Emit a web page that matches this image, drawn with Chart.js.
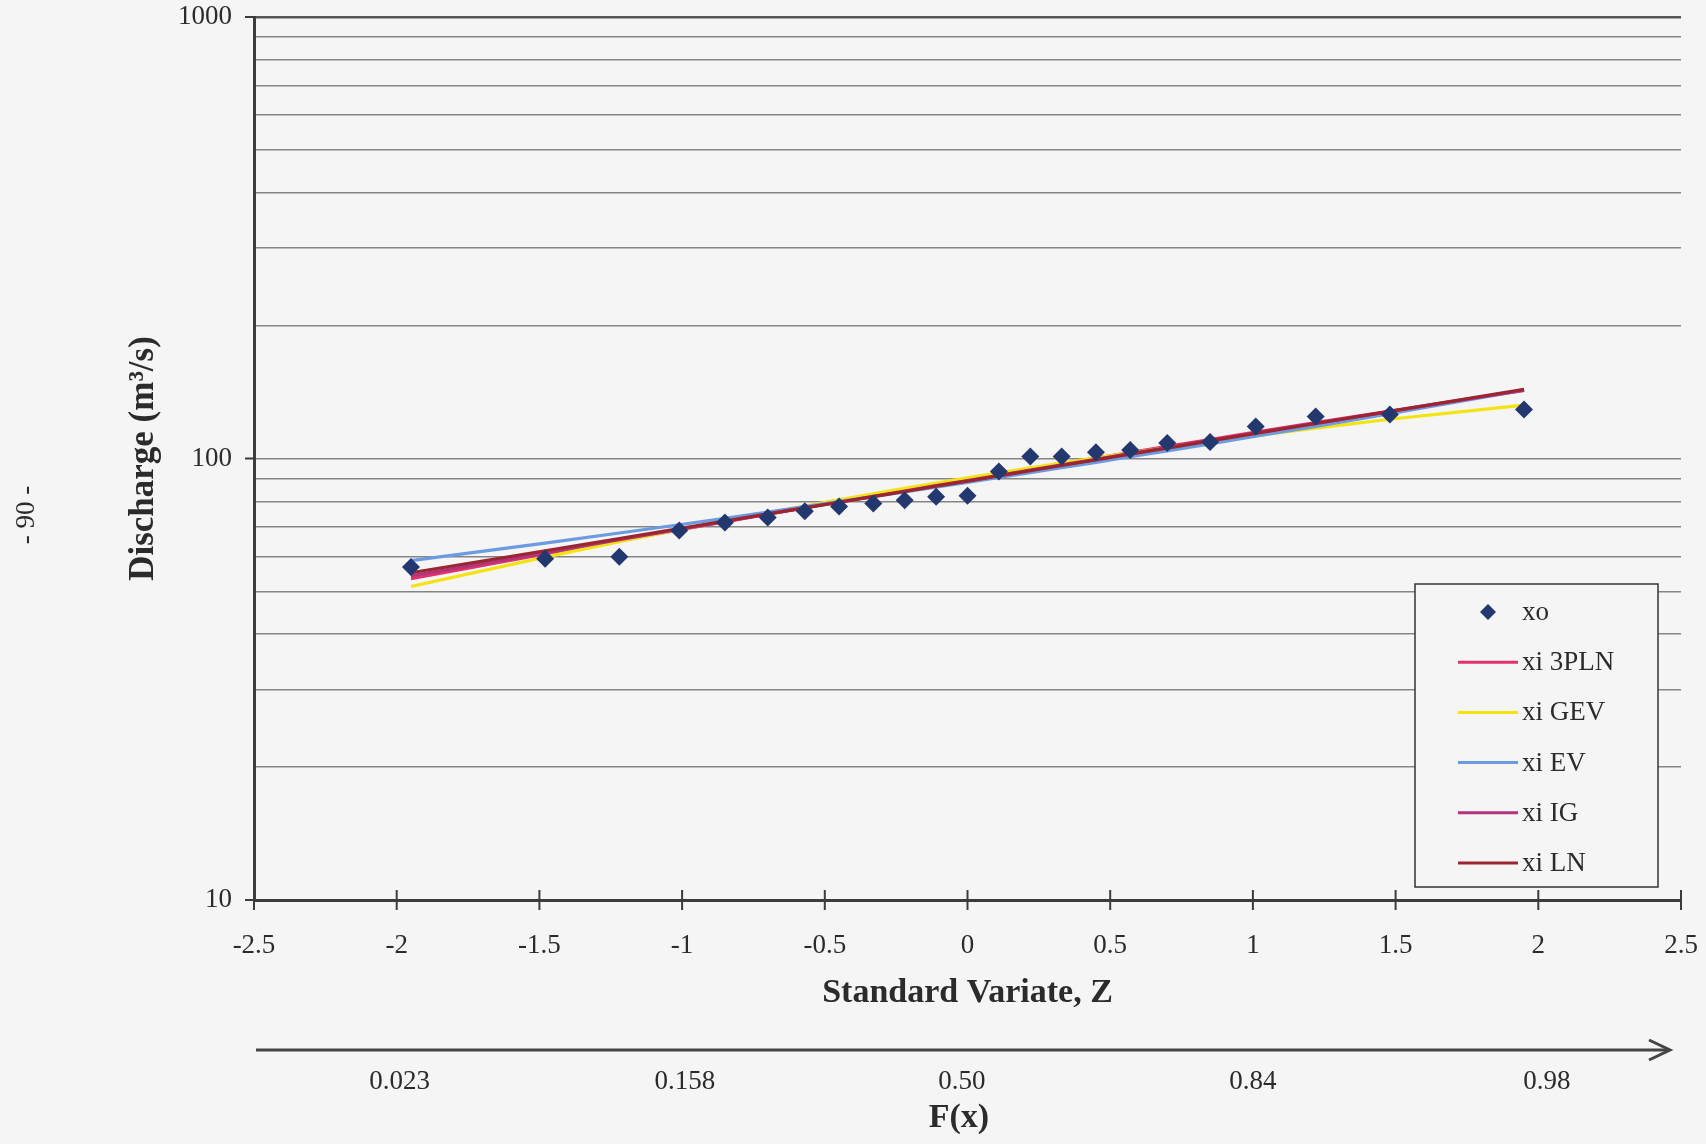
<!DOCTYPE html>
<html>
<head>
<meta charset="utf-8">
<script src="https://cdn.jsdelivr.net/npm/chart.js@4.4.1/dist/chart.umd.min.js"></script>
<style>
  body { margin: 0; background: #f5f5f5; }
  #wrap { width: 1706px; height: 1144px; }
</style>
</head>
<body>
<div id="wrap"><canvas id="freqChart" width="1706" height="1144"></canvas></div>
<script>
// standard variate (plotting positions) and discharges, m3/s
const zValues = [-1.95, -1.48, -1.22, -1.01, -0.85, -0.70, -0.57, -0.45, -0.33, -0.22, -0.11, 0,
                 0.11, 0.22, 0.33, 0.45, 0.57, 0.70, 0.85, 1.01, 1.22, 1.48, 1.95];
const xo     = [56.8, 59.3, 59.9, 68.7, 71.6, 73.5, 75.9, 77.9, 79.1, 80.4, 81.9, 82.3,
                93.5, 101.0, 101.1, 103.3, 104.5, 108.4, 109.0, 118.2, 124.5, 125.8, 129.2];
const xi3PLN = [53.4, 60.8, 65.2, 68.9, 71.9, 74.8, 77.4, 79.8, 82.3, 84.7, 87.1, 89.5,
                92.0, 94.6, 97.2, 100.2, 103.2, 106.5, 110.4, 114.7, 120.6, 128.1, 142.7];
const xiGEV  = [51.3, 59.8, 64.8, 69.0, 72.2, 75.3, 78.0, 80.6, 83.2, 85.6, 88.0, 90.4,
                92.8, 95.2, 97.6, 100.3, 102.9, 105.8, 109.1, 112.6, 117.2, 122.7, 132.1];
const xiEV   = [58.7, 64.3, 67.8, 70.8, 73.2, 75.6, 77.8, 79.9, 82.0, 84.0, 86.1, 88.3,
                90.6, 92.9, 95.3, 98.0, 100.9, 104.1, 107.9, 112.3, 118.2, 126.3, 142.9];
const xiIG   = [54.2, 61.2, 65.5, 69.1, 71.9, 74.8, 77.3, 79.6, 82.1, 84.4, 86.8, 89.1,
                91.6, 94.1, 96.7, 99.6, 102.6, 105.9, 109.8, 114.2, 120.1, 127.8, 142.9];
const xiLN   = [55.1, 61.8, 65.9, 69.4, 72.2, 74.9, 77.3, 79.6, 82.0, 84.2, 86.6, 88.9,
                91.3, 93.9, 96.4, 99.3, 102.3, 105.6, 109.6, 114.0, 120.0, 127.9, 143.5];

const xTicks = [-2.5, -2, -1.5, -1, -0.5, 0, 0.5, 1, 1.5, 2, 2.5];
const yGrid = [10, 20, 30, 40, 50, 60, 70, 80, 90, 100, 200, 300, 400, 500, 600, 700, 800, 900, 1000];
const yLabelled = [10, 100, 1000];
// F(x) labels sit roughly under z = -2, -1, 0, 1, 2
const fxPos = [-1.99, -0.99, -0.02, 1.0, 2.03];
const fxLabels = ["0.023", "0.158", "0.50", "0.84", "0.98"];

const serif = "'Liberation Serif', 'Times New Roman', serif";
const ink = "#2b2b2b";
const axisCol = "#3c3c3c";

function pts(vals) {
  return zValues.map((z, i) => ({ x: z, y: vals[i] }));
}

function lineSet(label, vals, color, order) {
  return {
    label: label, data: pts(vals), showLine: true, borderColor: color, backgroundColor: color,
    borderWidth: 3.2, pointRadius: 0, pointHoverRadius: 0, tension: 0, order: order
  };
}

// ticks, legend box, probability arrow and extra labels
const extras = {
  id: "extras",
  afterDraw(chart) {
    const ctx = chart.ctx;
    const xs = chart.scales.x, ys = chart.scales.y;
    const area = chart.chartArea;
    ctx.save();
    ctx.strokeStyle = axisCol;
    ctx.lineWidth = 2;
    xTicks.forEach(v => {
      const px = xs.getPixelForValue(v);
      ctx.beginPath(); ctx.moveTo(px, area.bottom - 10); ctx.lineTo(px, area.bottom + 10); ctx.stroke();
    });
    yLabelled.forEach(v => {
      const py = ys.getPixelForValue(v);
      ctx.beginPath(); ctx.moveTo(area.left - 9, py); ctx.lineTo(area.left, py); ctx.stroke();
    });

    // legend
    const lx = 1415, ly = 584, lw = 243, lh = 303;
    ctx.fillStyle = "#f5f5f5";
    ctx.fillRect(lx, ly, lw, lh);
    ctx.lineWidth = 1.5;
    ctx.strokeStyle = "#333";
    ctx.strokeRect(lx, ly, lw, lh);
    ctx.font = "27px " + serif;
    ctx.textBaseline = "middle";
    ctx.textAlign = "left";
    chart.data.datasets.forEach((ds, k) => {
      const y = 612 + k * 50.2;
      if (ds.showLine) {
        ctx.strokeStyle = ds.borderColor;
        ctx.lineWidth = 3;
        ctx.beginPath(); ctx.moveTo(1458, y); ctx.lineTo(1518, y); ctx.stroke();
      } else {
        ctx.fillStyle = ds.backgroundColor;
        ctx.beginPath();
        ctx.moveTo(1488, y - 8); ctx.lineTo(1496, y); ctx.lineTo(1488, y + 8); ctx.lineTo(1480, y);
        ctx.closePath(); ctx.fill();
      }
      ctx.fillStyle = ink;
      ctx.fillText(ds.label, 1522, y + 1);
    });

    // F(x) arrow
    ctx.strokeStyle = "#444";
    ctx.lineWidth = 3;
    ctx.beginPath(); ctx.moveTo(256, 1050); ctx.lineTo(1669, 1050); ctx.stroke();
    ctx.beginPath(); ctx.moveTo(1649, 1040); ctx.lineTo(1670, 1050); ctx.lineTo(1649, 1060); ctx.stroke();

    ctx.fillStyle = ink;
    ctx.textAlign = "center";
    ctx.font = "27px " + serif;
    fxPos.forEach((v, i) => {
      ctx.fillText(fxLabels[i], xs.getPixelForValue(v), 1082);
    });
    ctx.font = "bold 34px " + serif;
    ctx.fillText("F(x)", xs.getPixelForValue(-0.03), 1118);

    // page number
    ctx.font = "27px " + serif;
    ctx.translate(27, 515);
    ctx.rotate(-Math.PI / 2);
    ctx.fillText("- 90 -", 0, 0);
    ctx.restore();
  }
};

new Chart(document.getElementById("freqChart"), {
  type: "scatter",
  data: {
    datasets: [
      { label: "xo", data: pts(xo), pointStyle: "rectRot", pointRadius: 9, pointHoverRadius: 9,
        backgroundColor: "#22386e", borderColor: "#22386e", borderWidth: 0, order: 0 },
      lineSet("xi 3PLN", xi3PLN, "#e0336a", 5),
      lineSet("xi GEV", xiGEV, "#f2e311", 4),
      lineSet("xi EV", xiEV, "#6b9be0", 3),
      lineSet("xi IG", xiIG, "#b0337c", 2),
      lineSet("xi LN", xiLN, "#9b2630", 1)
    ]
  },
  options: {
    responsive: false,
    animation: false,
    layout: { padding: { left: 0, top: 17, right: 25, bottom: 0 } },
    plugins: { legend: { display: false }, tooltip: { enabled: false } },
    scales: {
      x: {
        type: "linear", min: -2.5, max: 2.5,
        afterBuildTicks: s => { s.ticks = xTicks.map(v => ({ value: v })); },
        afterFit: s => { s.height = 244; s.paddingLeft = 0; s.paddingRight = 0; },
        grid: { display: false },
        border: { display: true, color: axisCol, width: 3 },
        ticks: { padding: 22, color: ink, font: { family: serif, size: 27 }, maxRotation: 0, autoSkip: false,
                 callback: v => String(v) },
        title: { display: true, text: "Standard Variate, Z", color: ink,
                 font: { family: serif, size: 34, weight: "bold" }, padding: { top: 0, bottom: 130 } }
      },
      y: {
        type: "logarithmic", min: 10, max: 1000,
        afterBuildTicks: s => { s.ticks = yGrid.map(v => ({ value: v })); },
        afterFit: s => { s.width = 254; s.paddingTop = 0; s.paddingBottom = 0; },
        grid: {
          drawTicks: false,
          color: c => (c.tick && c.tick.value === 1000) ? "#555" : "#858585",
          lineWidth: c => (c.tick && c.tick.value === 1000) ? 2.5 : 1.5
        },
        border: { display: true, color: axisCol, width: 3 },
        ticks: { padding: 22, color: ink, font: { family: serif, size: 27 }, autoSkip: false,
                 callback: v => yLabelled.includes(v) ? String(v) : "" },
        title: { display: true, text: "Discharge (m³/s)", color: ink,
                 font: { family: serif, size: 35, weight: "bold" }, padding: { top: 123, bottom: 0 } }
      }
    }
  },
  plugins: [extras]
});
</script>
</body>
</html>
